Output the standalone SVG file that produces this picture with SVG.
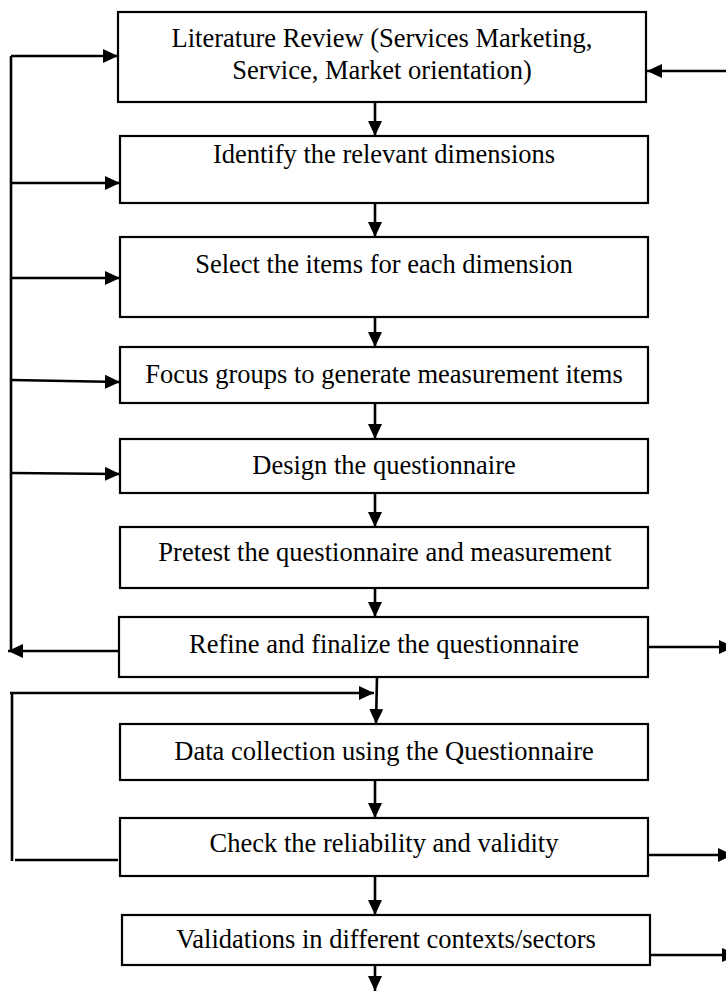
<svg xmlns="http://www.w3.org/2000/svg" width="726" height="993" viewBox="0 0 726 993">
<style>
.box{fill:#fff;stroke:#000;stroke-width:2.2}
.t{font-family:"Liberation Serif","Times New Roman",serif;font-size:26.5px;fill:#000;text-anchor:middle}
.c{fill:none;stroke:#000;stroke-width:2.6}
.a{marker-end:url(#ah)}
</style>
<defs>
<marker id="ah" markerUnits="userSpaceOnUse" markerWidth="15" markerHeight="14" refX="15" refY="7" orient="auto">
<path d="M0,0 L15,7 L0,14 z" fill="#000"/>
</marker>
</defs>
<g id="connectors">
<path class="c" d="M11,56 V651"/>
<path class="c a" d="M11,56 H118"/>
<path class="c a" d="M11,183 H120"/>
<path class="c a" d="M11,278 H120"/>
<path class="c a" d="M11,380 L120,382"/>
<path class="c a" d="M11,473 L120,474"/>
<path class="c a" d="M118,651 H8"/>
<path class="c a" d="M726,71 H647"/>
<path class="c a" d="M375,102 V136"/>
<path class="c a" d="M375,203 V237"/>
<path class="c a" d="M375,317 V347"/>
<path class="c a" d="M375,403 V439"/>
<path class="c a" d="M375,493 V527"/>
<path class="c a" d="M375,588 V617"/>
<path class="c a" d="M648,647 H734"/>
<path class="c a" d="M377,677 L376,724"/>
<path class="c" d="M12,693 V861"/>
<path class="c a" d="M10,693 H374"/>
<path class="c" d="M15,860 H118"/>
<path class="c a" d="M375,780 V818"/>
<path class="c a" d="M648,855 H733"/>
<path class="c a" d="M375,876 V915"/>
<path class="c a" d="M650,955 H737"/>
<path class="c a" d="M375,965 V991"/>
</g>
<g id="n1"><rect class="box" x="118" y="12" width="528" height="90"/><text class="t" x="382" y="47">Literature Review (Services Marketing,</text><text class="t" x="382" y="79">Service, Market orientation)</text></g>
<g id="n2"><rect class="box" x="120" y="136" width="528" height="67"/><text class="t" x="384" y="163">Identify the relevant dimensions</text></g>
<g id="n3"><rect class="box" x="120" y="237" width="528" height="80"/><text class="t" x="384" y="273">Select the items for each dimension</text></g>
<g id="n4"><rect class="box" x="120" y="347" width="528" height="56"/><text class="t" x="384" y="383">Focus groups to generate measurement items</text></g>
<g id="n5"><rect class="box" x="120" y="439" width="528" height="54"/><text class="t" x="384" y="474">Design the questionnaire</text></g>
<g id="n6"><rect class="box" x="120" y="527" width="528" height="61"/><text class="t" x="385" y="561">Pretest the questionnaire and measurement</text></g>
<g id="n7"><rect class="box" x="119" y="617" width="529" height="60"/><text class="t" x="384" y="653">Refine and finalize the questionnaire</text></g>
<g id="n8"><rect class="box" x="120" y="724" width="528" height="56"/><text class="t" x="384" y="760">Data collection using the Questionnaire</text></g>
<g id="n9"><rect class="box" x="120" y="818" width="528" height="58"/><text class="t" x="384" y="852">Check the reliability and validity</text></g>
<g id="n10"><rect class="box" x="122" y="915" width="528" height="50"/><text class="t" x="386" y="948">Validations in different contexts/sectors</text></g>
</svg>
